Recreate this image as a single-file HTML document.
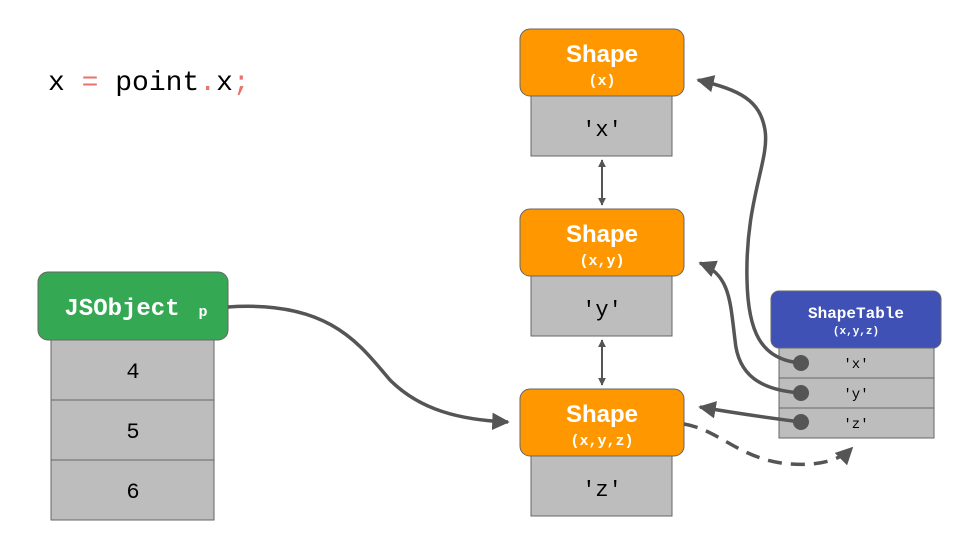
<!DOCTYPE html>
<html><head><meta charset="utf-8"><style>
body{margin:0;background:#fff}
svg text{font-family:"Liberation Mono",monospace}
</style></head><body>
<svg width="960" height="540" viewBox="0 0 960 540" xmlns="http://www.w3.org/2000/svg">
<defs>
<marker id="a" viewBox="0 0 10 10" refX="9" refY="5" markerWidth="5" markerHeight="5" orient="auto"><path d="M0,0L10,5L0,10z" fill="#555"/></marker>
<marker id="s" viewBox="0 0 10 10" refX="9" refY="5" markerWidth="4" markerHeight="4" orient="auto-start-reverse"><path d="M0,0L10,5L0,10z" fill="#555"/></marker>
</defs>
<text x="48" y="90" font-size="28" fill="#000">x <tspan fill="#e8736a">=</tspan> point<tspan fill="#e8736a">.</tspan>x<tspan fill="#e8736a">;</tspan></text>

<g stroke="#666" stroke-width="1">
<rect x="531" y="96" width="141" height="60" fill="#bdbdbd"/>
<rect x="531" y="276" width="141" height="60" fill="#bdbdbd"/>
<rect x="531" y="456" width="141" height="60" fill="#bdbdbd"/>
<rect x="520" y="29" width="164" height="67" rx="10" fill="#ff9800"/>
<rect x="520" y="209" width="164" height="67" rx="10" fill="#ff9800"/>
<rect x="520" y="389" width="164" height="67" rx="10" fill="#ff9800"/>
<rect x="51" y="340" width="163" height="60" fill="#bdbdbd"/>
<rect x="51" y="400" width="163" height="60" fill="#bdbdbd"/>
<rect x="51" y="460" width="163" height="60" fill="#bdbdbd"/>
<rect x="38" y="272" width="190" height="68" rx="10" fill="#34a853"/>
<rect x="779" y="348" width="155" height="30" fill="#bdbdbd"/>
<rect x="779" y="378" width="155" height="30" fill="#bdbdbd"/>
<rect x="779" y="408" width="155" height="30" fill="#bdbdbd"/>
<rect x="771" y="291" width="170" height="57" rx="8" fill="#3f51b5"/>
</g>

<g fill="#fff" font-weight="bold" text-anchor="middle">
<text x="602" y="62" font-size="24" font-family="Liberation Sans, sans-serif" style="font-family:'Liberation Sans',sans-serif">Shape</text>
<text x="602" y="85" font-size="15">(x)</text>
<text x="602" y="242" font-size="24" style="font-family:'Liberation Sans',sans-serif">Shape</text>
<text x="602" y="265" font-size="15">(x,y)</text>
<text x="602" y="422" font-size="24" style="font-family:'Liberation Sans',sans-serif">Shape</text>
<text x="602" y="445" font-size="15">(x,y,z)</text>
<text x="856" y="318" font-size="16">ShapeTable</text>
<text x="856" y="334" font-size="11">(x,y,z)</text>
<text x="122" y="315" font-size="24">JSObject</text>
<text x="203" y="316" font-size="15">p</text>
</g>
<g fill="#000" text-anchor="middle" font-size="22">
<text x="602" y="136">'x'</text>
<text x="602" y="316">'y'</text>
<text x="602" y="496">'z'</text>
<text x="133" y="378">4</text>
<text x="133" y="438">5</text>
<text x="133" y="498">6</text>
</g>
<g fill="#000" text-anchor="middle" font-size="14">
<text x="856" y="368">'x'</text>
<text x="856" y="398">'y'</text>
<text x="856" y="428">'z'</text>
</g>

<g stroke="#555" fill="none">
<line x1="602" y1="160" x2="602" y2="205" stroke-width="2" marker-start="url(#s)" marker-end="url(#s)"/>
<line x1="602" y1="340" x2="602" y2="385" stroke-width="2" marker-start="url(#s)" marker-end="url(#s)"/>
<g stroke-width="3.5">
<path d="M228,307 C330,300 360,345 390,380 C420,410 460,420 508,422" marker-end="url(#a)"/>
<path d="M801,363 C760,360 748,330 747,280 C745,200 770,160 765,130 C760,100 740,90 698,80" marker-end="url(#a)"/>
<path d="M801,393 C760,390 738,375 735,340 C730,300 730,275 700,263" marker-end="url(#a)"/>
<path d="M801,422 C770,418 740,414 700,407" marker-end="url(#a)"/>
<path d="M684,424 C720,430 740,460 790,464 C820,466 840,460 852,448" stroke-dasharray="14,9" marker-end="url(#a)"/>
</g>
</g>
<g fill="#555"><circle cx="801" cy="363" r="8"/><circle cx="801" cy="393" r="8"/><circle cx="801" cy="422" r="8"/></g>
</svg>
</body></html>
